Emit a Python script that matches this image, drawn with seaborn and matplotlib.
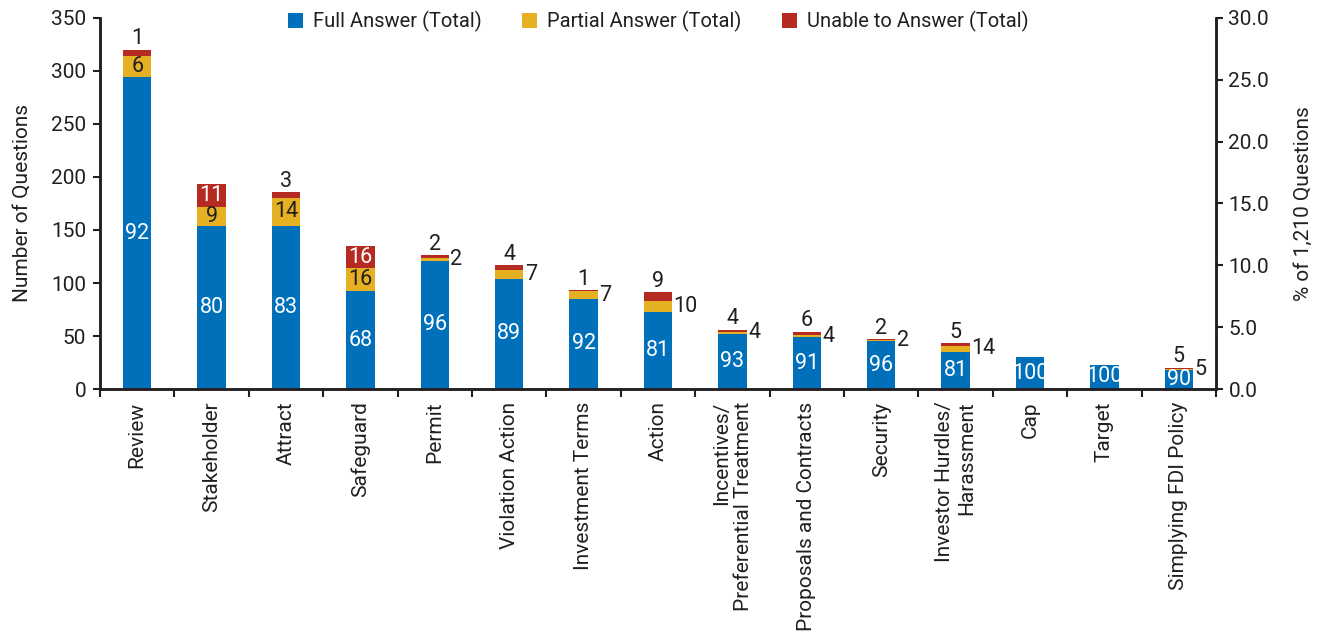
import matplotlib
matplotlib.use("Agg")
import matplotlib.pyplot as plt
import seaborn as sns
import pandas as pd
import numpy as np
from matplotlib.patches import Patch
from matplotlib.ticker import FixedLocator

categories = ["Review", "Stakeholder", "Attract", "Safeguard", "Permit", "Violation Action",
              "Investment Terms", "Action", "Incentives/\nPreferential Treatment",
              "Proposals and Contracts", "Security", "Investor Hurdles/\nHarassment",
              "Cap", "Target", "Simplying FDI Policy"]
full = [294, 154, 154, 92, 121, 104, 85, 73, 52, 49, 45, 35, 30, 23, 18]
partial = [20, 18, 26, 22, 3, 8, 7, 10, 2, 2, 1, 6, 0, 0, 1]
unable = [6, 21, 6, 21, 2.5, 5, 1.5, 8.5, 2, 3, 1, 2, 0, 0, 1]
full_pct = [92, 80, 83, 68, 96, 89, 92, 81, 93, 91, 96, 81, 100, 100, 90]
partial_pct = [6, 9, 14, 16, 2, 7, 7, 10, 4, 4, 2, 14, None, None, 5]
unable_pct = [1, 11, 3, 16, 2, 4, 1, 9, 4, 6, 2, 5, None, None, 5]
series_names = ["Full Answer (Total)", "Partial Answer (Total)", "Unable to Answer (Total)"]

BLUE, YELLOW, RED = "#0070BA", "#E5B022", "#B52B22"
DARK = "#231F20"

sns.set_theme(style="white")
plt.rcParams["font.family"] = ["Roboto", "DejaVu Sans"]

df = pd.DataFrame({"cat": categories, "full": full, "partial": partial, "unable": unable})
df["fp"] = df["full"] + df["partial"]
df["total"] = df["fp"] + df["unable"]

fig = plt.figure(figsize=(13.21, 6.31), dpi=100)
ax = fig.add_axes([0.0757, 0.3835, 0.8448, 0.588])

W = 0.38
sns.barplot(data=df, x="cat", y="total", color=RED, width=W, saturation=1, ax=ax, linewidth=0)
sns.barplot(data=df, x="cat", y="fp", color=YELLOW, width=W, saturation=1, ax=ax, linewidth=0)
sns.barplot(data=df, x="cat", y="full", color=BLUE, width=W, saturation=1, ax=ax, linewidth=0)

TFS = 15
ax.set_xlim(-0.5, len(categories) - 0.5)
ax.set_ylim(0, 350)
ax.set_yticks(np.arange(0, 351, 50))
ax.tick_params(axis="y", labelsize=TFS, colors=DARK, length=5, width=1.5, direction="out", left=True, pad=5)
ax.set_ylabel("Number of Questions", fontsize=TFS, color=DARK, labelpad=14)
ax.set_xlabel("")

ax.xaxis.set_major_locator(FixedLocator(np.arange(len(categories))))
ax.set_xticklabels(categories, rotation=90, fontsize=TFS, color=DARK, multialignment="right")
ax.tick_params(axis="x", which="major", length=0, pad=9)
ax.xaxis.set_minor_locator(FixedLocator(np.arange(-0.5, len(categories), 1.0)))
ax.tick_params(axis="x", which="minor", length=6, width=1.5, color=DARK, direction="out", bottom=True)

for s in ["left", "bottom", "right"]:
    ax.spines[s].set_color(DARK)
    ax.spines[s].set_linewidth(1.8)
ax.spines["top"].set_visible(False)

ax2 = ax.twinx()
ax2.set_ylim(0, 30)
ax2.set_yticks(np.arange(0, 30.1, 5))
ax2.set_yticklabels([f"{v:.1f}" for v in np.arange(0, 30.1, 5)])
ax2.tick_params(axis="y", labelsize=TFS, colors=DARK, length=5, width=1.5, direction="out", pad=4)
ax2.set_ylabel("% of 1,210 Questions", fontsize=TFS, color=DARK, labelpad=18)
for s in ["left", "bottom", "right"]:
    ax2.spines[s].set_color(DARK)
    ax2.spines[s].set_linewidth(1.8)
ax2.spines["top"].set_visible(False)

FS = 15.5
for i in range(len(categories)):
    xr = i + W / 2
    f, p, u = full[i], partial[i], unable[i]
    ax.text(i, f / 2, str(full_pct[i]), ha="center", va="center", color="white", fontsize=FS)
    if partial_pct[i] is not None:
        if p >= 15:
            ax.text(i, f + p / 2, str(partial_pct[i]), ha="center", va="center", color=DARK, fontsize=FS)
        else:
            ax.text(xr + 0.02, f + p / 2, str(partial_pct[i]), ha="left", va="center", color=DARK, fontsize=FS)
    if unable_pct[i] is not None:
        if u >= 15:
            ax.text(i, f + p + u / 2, str(unable_pct[i]), ha="center", va="center", color="white", fontsize=FS)
        else:
            ax.text(i, f + p + u + 0.3, str(unable_pct[i]), ha="center", va="bottom", color=DARK, fontsize=FS)

handles = [Patch(facecolor=c, edgecolor="none") for c in (BLUE, YELLOW, RED)]
ax.legend(handles, series_names, loc="upper center", bbox_to_anchor=(0.5, 1.068), ncol=3,
          frameon=False, fontsize=14.5, handlelength=0.75, handleheight=0.75, handletextpad=0.5,
          columnspacing=2.0, labelcolor=DARK)

fig.savefig("out.png", dpi=100)
